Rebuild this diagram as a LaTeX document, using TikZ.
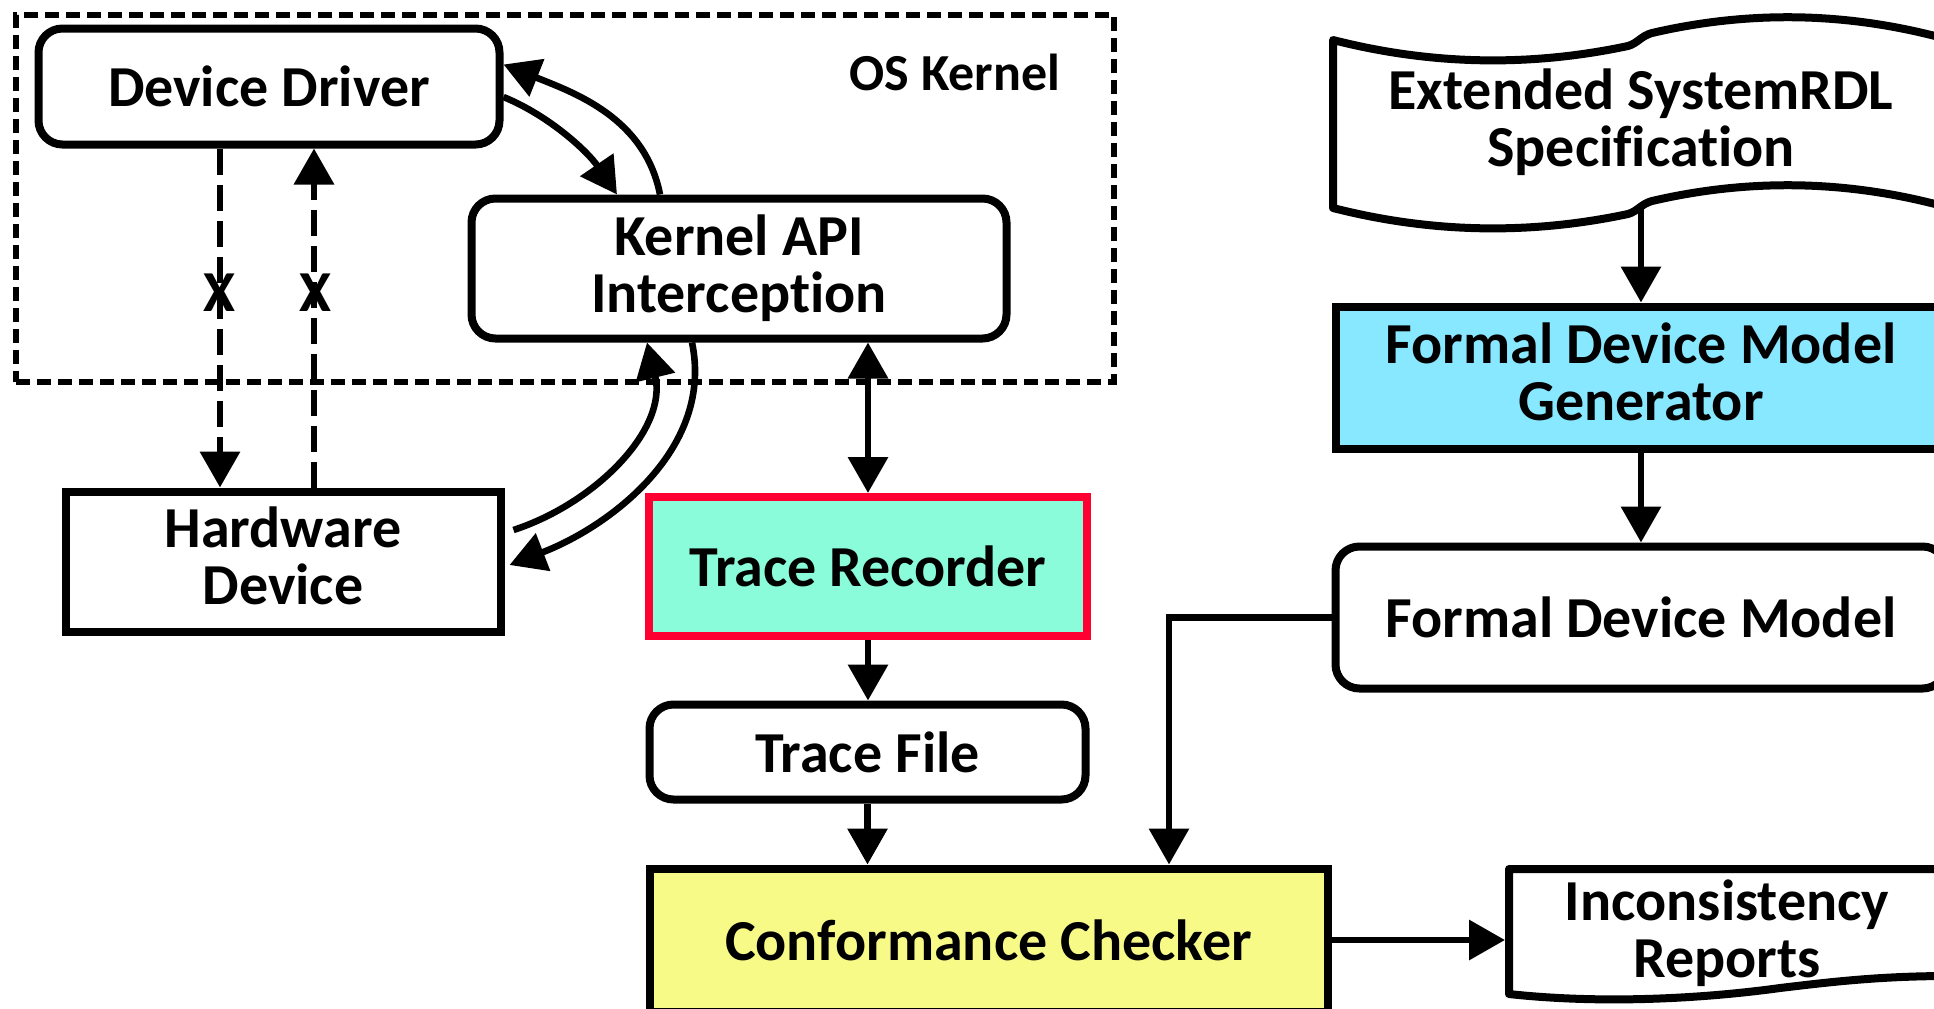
\documentclass[tikz,border=0pt]{standalone}
\usepackage{fontspec}
\setmainfont{Carlito}[Ligatures={NoCommon}]
\usetikzlibrary{arrows.meta}
\definecolor{trfill}{HTML}{8AFCD9}
\definecolor{trline}{HTML}{FF0033}
\definecolor{genfill}{HTML}{88E8FF}
\definecolor{ccfill}{HTML}{F8FA88}
\newcommand\dstrut{\vrule width 0pt height 0pt depth 0.2em\relax}
\tikzset{
  bigtri/.tip={Triangle[length=18pt,width=19.5pt]},
  lbl/.style={font=\fontsize{29pt}{28.5pt}\selectfont\bfseries, align=center, text=black},
  box/.style={lbl, draw=black, fill=white, line width=4pt, inner sep=0pt, outer sep=2pt},
  rbox/.style={box, rounded corners=12pt},
  conn/.style={line width=3.3pt, -bigtri},
  dconn/.style={conn, dash pattern=on 13pt off 5pt},
  kbox/.style={draw=black, line width=2.9pt, dash pattern=on 7pt off 3.5pt, inner sep=0pt},
  shapeline/.style={draw=black, fill=white, line width=4pt, line join=round},
}
\begin{document}
\begin{tikzpicture}[x=0.5pt, y=-0.5pt]
\useasboundingbox (0,0) rectangle (1934,1008);
\clip (0,0) rectangle (1934,1008);
\fill[white] (0,0) rectangle (1934,1008);

% OS kernel region
\node[kbox, minimum width=549pt, minimum height=183.5pt] (kernel) at (565,198.5) {};
\node[lbl, font=\fontsize{26pt}{26pt}\selectfont\bfseries] (oslbl) at (955,72) {OS Kernel};

% left column nodes
\node[rbox, minimum width=230.5pt, minimum height=58pt] (DD) at (269,86.5) {Device Driver};
\node[rbox, minimum width=267.5pt, minimum height=70pt] (KAPI) at (739,268.5) {Kernel API\\Interception};
\node[box, minimum width=217.5pt, minimum height=70pt] (HW) at (283,561.5) {Hardware\\Device\dstrut};
\node[box, draw=trline, fill=trfill, minimum width=219pt, minimum height=69.5pt] (TR) at (868,566.5) {Trace Recorder};
\node[rbox, minimum width=218pt, minimum height=47.5pt] (TF) at (867.5,752) {Trace File};
\node[box, fill=ccfill, minimum width=339pt, minimum height=71.5pt] (CC) at (988.5,940) {Conformance Checker};

% right column: tape shape for specification
\path[shapeline]
  (1333,40) .. controls (1431,65) and (1529,67) .. (1628,46)
  .. controls (1638,43) and (1641,36) .. (1652,33)
  .. controls (1751,10) and (1850,12) .. (1950,40)
  -- (1950,208)
  .. controls (1850,180) and (1751,178) .. (1652,201)
  .. controls (1641,204) and (1638,211) .. (1628,214)
  .. controls (1529,235) and (1431,233) .. (1333,208) -- cycle;
\node[lbl, minimum width=305.5pt, minimum height=85pt, inner sep=0pt, outer sep=0pt] (SP) at (1641,122) {Extended SystemRDL\\Specification};

\node[box, fill=genfill, minimum width=305.5pt, minimum height=71pt] (GEN) at (1641,377.5) {Formal Device Model\\Generator\dstrut};
\node[rbox, minimum width=305.5pt, minimum height=71pt] (FDM) at (1641,617.5) {Formal Device Model};

% document shape for reports
\path[shapeline]
  (1509,869) -- (1950,869) -- (1950,976)
  .. controls (1880,976) and (1830,982) .. (1780,988)
  .. controls (1700,999) and (1600,1004) .. (1509,994) -- cycle;
\node[lbl, minimum width=218pt, minimum height=64pt, inner sep=0pt, outer sep=2pt] (IR) at (1727,933) {Inconsistency\\Reports};

% curved connectors between driver, kernel API and hardware
\draw[conn] ([yshift=-5.25pt]DD.east) .. controls (550,116) and (588,152) .. ([xshift=-61pt]KAPI.north);
\draw[conn] ([xshift=-39.5pt]KAPI.north) .. controls (645,118) and (575,93) .. ([yshift=11pt]DD.east);
\draw[conn] ([shift={(4.5pt,15.75pt)}]HW.east) .. controls (596,503) and (668,429) .. ([xshift=-46pt]KAPI.south);
\draw[conn] ([xshift=-23.5pt]KAPI.south) .. controls (714,448) and (611,526) .. ([shift={(2.5pt,-1.75pt)}]HW.east);

% dashed (blocked) direct accesses
\coordinate (dl) at ([xshift=-24.5pt]DD.south);
\coordinate (dr) at ([xshift=22.5pt]DD.south);
\draw[dconn] (dl) -- (dl |- HW.north);
\draw[dconn] (dr |- HW.north) -- (dr);
\node[lbl] (x1) at (219,293) {X};
\node[lbl] (x2) at (315,293) {X};

% straight connectors
\draw[line width=3.3pt, bigtri-bigtri] (TR.north |- KAPI.south) -- (TR.north);
\draw[conn] (TR.south) -- (TR.south |- TF.north);
\draw[conn] (TF.south) -- (TF.south |- CC.north);
\draw[conn] (SP.south) -- (GEN.north);
\draw[conn] (GEN.south) -- (FDM.north);
\draw[conn] (FDM.west) -| ([xshift=90.25pt]CC.north);
\draw[conn] (CC.east) -- (CC.east -| IR.west);
\end{tikzpicture}
\end{document}
